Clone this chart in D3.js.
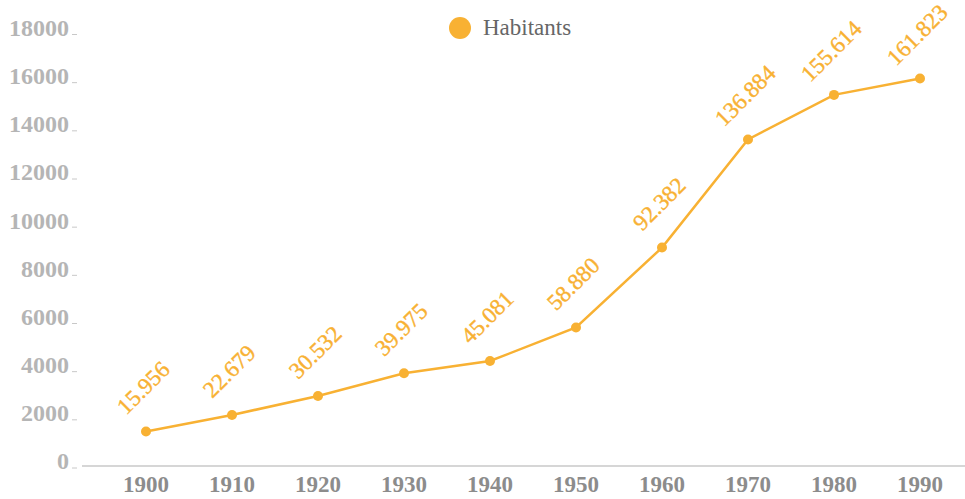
<!DOCTYPE html>
<html>
<head>
<meta charset="utf-8">
<script src="https://cdn.jsdelivr.net/npm/d3@7"></script>
<style>
  body{margin:0;background:#fff;}
  svg{display:block;font-family:"Liberation Serif","DejaVu Serif",serif;}
</style>
</head>
<body>
<div id="chart"></div>
<script>
// data
let years=["1900","1910","1920","1930","1940","1950","1960","1970","1980","1990"]
let habitants=[1450,2140,2930,3870,4380,5770,9090,13580,15430,16110]
let valueLabels=["15.956","22.679","30.532","39.975","45.081","58.880","92.382","136.884","155.614","161.823"]
let yTicks=[0,2000,4000,6000,8000,10000,12000,14000,16000,18000]
let seriesName="Habitants"

let width=965, height=499
let orange="#f8b133"

let svg=d3.select("#chart").append("svg").attr("width",width).attr("height",height)

let xScale=d3.scaleBand().domain(years).range([103,963])
let yScale=d3.scaleLinear().domain([0,18000]).range([466.5,33])

//y axis: labels and small dashes
let yAxis=d3.axisLeft(yScale).tickValues(yTicks).tickSize(5).tickPadding(3).tickFormat(d3.format("d"))
let gy=svg.append("g").attr("transform","translate(77,0)").call(yAxis)
gy.select(".domain").remove()
gy.selectAll(".tick line").attr("stroke","#c8c8c8").attr("transform","translate(0,1)")
gy.selectAll(".tick text").attr("fill","#b5b5b5").attr("font-size","24px").attr("font-weight","bold")
  .attr("font-family","Liberation Serif, serif").attr("dy","0.1em")

//x axis
svg.append("line").attr("x1",82).attr("x2",965).attr("y1",466).attr("y2",466).attr("stroke","#c8c8c8").attr("stroke-width",1.5)
let xAxis=d3.axisBottom(xScale).tickSize(0).tickPadding(10)
let gx=svg.append("g").attr("transform","translate(0,466)").call(xAxis)
gx.select(".domain").remove()
gx.selectAll(".tick text").attr("fill","#8c8c8c").attr("font-size","23px").attr("font-weight","bold")
  .attr("font-family","Liberation Serif, serif")

//line and points
let pts=years.map((y,i)=>({year:y,value:habitants[i],label:valueLabels[i]}))
let line=d3.line().x(d=>xScale(d.year)+xScale.bandwidth()/2).y(d=>yScale(d.value))
svg.append("path").datum(pts).attr("d",line).attr("fill","none").attr("stroke",orange).attr("stroke-width",2.5)
svg.selectAll("circle.dot").data(pts).enter().append("circle").attr("class","dot")
  .attr("cx",d=>xScale(d.year)+xScale.bandwidth()/2).attr("cy",d=>yScale(d.value)).attr("r",5).attr("fill",orange)

//rotated value labels
svg.selectAll("text.val").data(pts).enter().append("text").attr("class","val")
  .attr("transform",d=>"translate("+(xScale(d.year)+xScale.bandwidth()/2-3)+","+(yScale(d.value)-44)+") rotate(-45)")
  .attr("text-anchor","middle").attr("dy","0.35em").attr("fill",orange).attr("font-size","23px")
  .attr("stroke",orange).attr("stroke-width",0.4)
  .text(d=>d.label)

//legend
let legend=svg.append("g").attr("id","legend")
legend.append("circle").attr("cx",460).attr("cy",28).attr("r",11).attr("fill",orange)
legend.append("text").attr("x",483).attr("y",35).attr("fill","#666").attr("font-size","23px").text(seriesName)
</script>
</body>
</html>
